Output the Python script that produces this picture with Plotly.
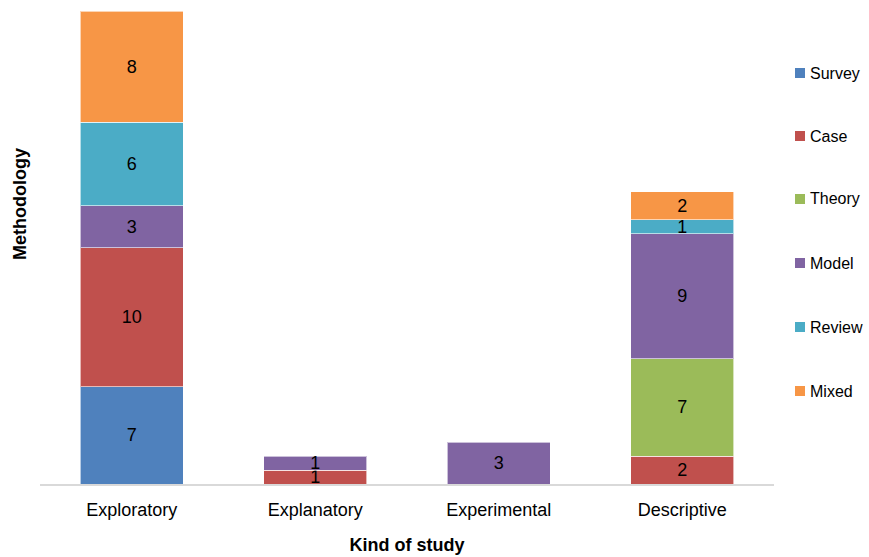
import plotly.graph_objects as go

# Kinds of study on the x axis
categories = ["Exploratory", "Explanatory", "Experimental", "Descriptive"]

# Counts per methodology (None = no studies)
survey = [7, None, None, None]
case = [10, 1, None, 2]
theory = [None, None, None, 7]
model = [3, 1, 3, 9]
review = [6, None, None, 1]
mixed = [8, None, None, 2]

series = [
    ("Survey", survey, "#4F81BD"),
    ("Case", case, "#C0504D"),
    ("Theory", theory, "#9BBB59"),
    ("Model", model, "#8064A2"),
    ("Review", review, "#4BACC6"),
    ("Mixed", mixed, "#F79646"),
]

FONT = "Liberation Sans, Arial, sans-serif"
FS = 18

# Figure / plot-area geometry in pixels
W, H = 869, 557
L, R, T, B = 40, 95, 11, 73
PW, PH = W - L - R, H - T - B

fig = go.Figure()
for name, vals, color in series:
    fig.add_trace(go.Bar(
        x=categories,
        y=vals,
        name=name,
        marker=dict(color=color, line=dict(color="rgba(255,255,255,0.6)", width=1)),
        text=[str(v) if v is not None else "" for v in vals],
        textposition="inside",
        insidetextanchor="middle",
        textangle=0,
        constraintext="none",
        textfont=dict(color="black", size=FS, family=FONT),
        width=0.56,
        showlegend=False,
    ))

# Legend drawn as swatches + labels to the right of the plot area
shapes = []
annotations = []
legend_rows = [73, 136, 199, 263, 327, 391]
for (name, _, color), py in zip(series, legend_rows):
    yc = (H - B - py) / PH
    x0 = (795 - L) / PW
    x1 = (805 - L) / PW
    half = 5 / PH
    shapes.append(dict(type="rect", xref="paper", yref="paper",
                       x0=x0, x1=x1, y0=yc - half, y1=yc + half,
                       fillcolor=color, line=dict(width=0)))
    annotations.append(dict(text=name, xref="paper", yref="paper",
                            x=(808 - L) / PW, y=yc, xanchor="left", yanchor="middle",
                            showarrow=False, font=dict(size=16, family=FONT, color="black")))

annotations.append(dict(
    text="<b>Methodology</b>",
    xref="paper", yref="paper",
    x=(20 - L) / PW, y=(H - B - 204) / PH,
    xanchor="center", yanchor="middle",
    textangle=-90,
    showarrow=False,
    font=dict(size=FS, family=FONT, color="black"),
))

fig.update_layout(
    barmode="stack",
    width=W,
    height=H,
    margin=dict(l=L, r=R, t=T, b=B),
    paper_bgcolor="white",
    plot_bgcolor="white",
    font=dict(family=FONT, size=FS, color="black"),
    uniformtext=dict(minsize=FS, mode="show"),
    showlegend=False,
    xaxis=dict(
        automargin=False,
        showline=True,
        linecolor="#D9D9D9",
        linewidth=2,
        ticks="",
        ticklabelstandoff=8,
        tickfont=dict(size=FS, family=FONT),
        title=dict(text="<b>Kind of study</b>", font=dict(size=FS, family=FONT), standoff=20),
    ),
    yaxis=dict(
        automargin=False,
        range=[0, 34],
        showgrid=False,
        showticklabels=False,
        zeroline=False,
        showline=False,
    ),
    shapes=shapes,
    annotations=annotations,
)

fig.write_html("out.html")
